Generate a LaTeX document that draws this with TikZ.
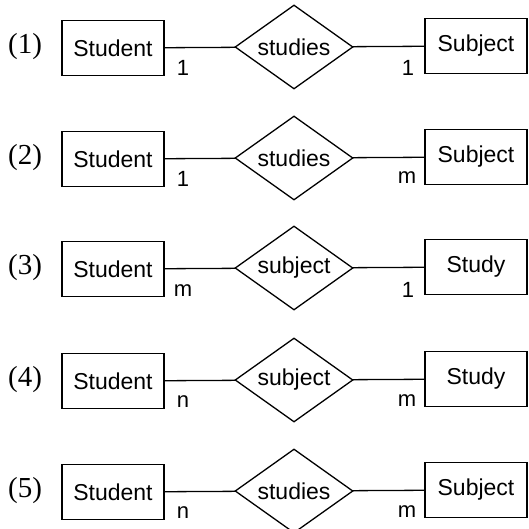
\documentclass[tikz,border=0pt]{standalone}
\usepackage{fontspec}
\setmainfont{Liberation Serif}
\setsansfont{Liberation Sans}
\usetikzlibrary{shapes.geometric}

\newlength{\du}
\setlength{\du}{1pt}

\tikzset{
  entity/.style={draw, line width=1.3\du, minimum width=102\du, minimum height=55\du,
    inner sep=0pt, font=\sffamily\fontsize{23}{26}\selectfont},
  relation/.style={draw, diamond, line width=1.3\du, aspect=1.4, minimum width=118\du,
    minimum height=84\du, inner sep=0pt, font=\sffamily\fontsize{23}{26}\selectfont},
  card/.style={inner sep=0pt, font=\sffamily\fontsize{22}{24}\selectfont},
  rowlabel/.style={inner sep=0pt, font=\rmfamily\fontsize{29}{32}\selectfont},
  link/.style={line width=1.3\du}
}

\begin{document}
\begin{tikzpicture}
\pgftransformxscale{1.000000}
\pgftransformyscale{-1.000000}
\useasboundingbox (0\du,0\du) rectangle (529\du,529\du);
% (1)
\node[rowlabel] (n1) at (25\du,47\du){(1)};
\node[entity] (stu1) at (113\du,48\du){Student};
\node[relation] (rel1) at (294\du,47\du){studies};
\node[entity] (sub1) at (476\du,46\du){Subject};
\node[card] (cl1) at (183\du,68\du){1};
\node[card] (cr1) at (408\du,68\du){1};
\draw[link] (stu1)--(rel1);
\draw[link] (rel1)--(sub1);
% (2)
\node[rowlabel] (n2) at (25\du,158\du){(2)};
\node[entity] (stu2) at (113\du,159\du){Student};
\node[relation] (rel2) at (294\du,158\du){studies};
\node[entity] (sub2) at (476\du,157\du){Subject};
\node[card] (cl2) at (183\du,179\du){1};
\node[card] (cr2) at (407\du,178\du){m};
\draw[link] (stu2)--(rel2);
\draw[link] (rel2)--(sub2);
% (3)
\node[rowlabel] (n3) at (25\du,268\du){(3)};
\node[entity] (stu3) at (113\du,269\du){Student};
\node[relation] (rel3) at (294\du,268\du){subject};
\node[entity] (sub3) at (476\du,267\du){Study};
\node[card] (cl3) at (183\du,291\du){m};
\node[card] (cr3) at (408\du,290\du){1};
\draw[link] (stu3)--(rel3);
\draw[link] (rel3)--(sub3);
% (4)
\node[rowlabel] (n4) at (25\du,380\du){(4)};
\node[entity] (stu4) at (113\du,381\du){Student};
\node[relation] (rel4) at (294\du,380\du){subject};
\node[entity] (sub4) at (476\du,379\du){Study};
\node[card] (cl4) at (183\du,402\du){n};
\node[card] (cr4) at (407\du,401\du){m};
\draw[link] (stu4)--(rel4);
\draw[link] (rel4)--(sub4);
% (5)
\node[rowlabel] (n5) at (25\du,491\du){(5)};
\node[entity] (stu5) at (113\du,492\du){Student};
\node[relation] (rel5) at (294\du,491\du){studies};
\node[entity] (sub5) at (476\du,490\du){Subject};
\node[card] (cl5) at (183\du,513\du){n};
\node[card] (cr5) at (407\du,512\du){m};
\draw[link] (stu5)--(rel5);
\draw[link] (rel5)--(sub5);
\end{tikzpicture}
\end{document}
